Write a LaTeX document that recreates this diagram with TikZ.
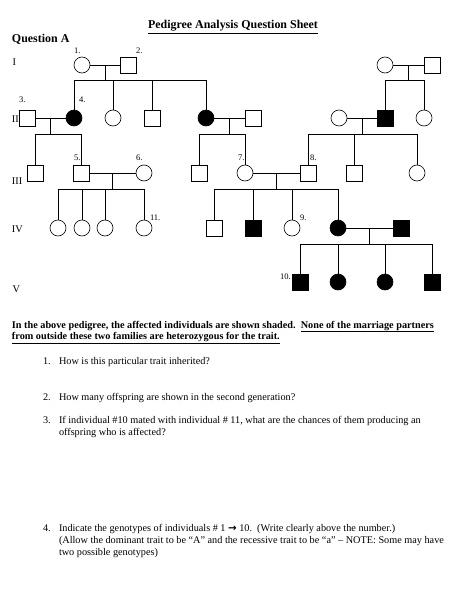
\documentclass[tikz,border=0pt]{standalone}
\usepackage{fontspec}
\setmainfont{Liberation Serif}
\newfontfamily\symfont{DejaVu Sans}
\usetikzlibrary{calc}
\begin{document}
\begin{tikzpicture}[x=1.1723pt,y=-1.1723pt,
  every node/.style={inner sep=0pt, outer sep=0pt},
  ind/.style={draw, line width=0.7pt, minimum size=18.76pt},
  male/.style={ind, rectangle},
  female/.style={ind, circle},
  aff/.style={fill=black},
  link/.style={line width=0.7pt},
  txt/.style={anchor=base west, font=\fontsize{12}{14}\selectfont},
  btxt/.style={anchor=base west, font=\fontsize{12}{14}\selectfont\bfseries},
  head/.style={font=\fontsize{14}{16}\selectfont\bfseries},
  num/.style={anchor=base west, font=\fontsize{10}{12}\selectfont},
  gen/.style={anchor=base west, font=\fontsize{12}{14}\selectfont}
]
\useasboundingbox[fill=white] (0,0) rectangle (474,596);

% headings
\node[head, anchor=base] (title) at (233,29) {\underline{Pedigree Analysis Question Sheet}};
\node[head, anchor=base west] (qa) at (12,43) {Question A};

% generation labels
\node[gen] (gI) at (12.5,66) {I};
\node[gen] (gII) at (12,123) {II};
\node[gen] (gIII) at (12,184.5) {III};
\node[gen] (gIV) at (12,232) {IV};
\node[gen] (gV) at (12.5,292) {V};

% Generation I
\node[female] (c1) at (82,65) {};
\node[male] (s2) at (128,65) {};
\node[female] (r1) at (385,65) {};
\node[male] (r2) at (432,65) {};

% Generation II
\node[male] (s3) at (27,118) {};
\node[female,aff] (c4) at (74,118) {};
\node[female] (c2b) at (113,118) {};
\node[male] (s2c) at (152,118) {};
\node[female,aff] (c2d) at (206,118) {};
\node[male] (s2e) at (253,118) {};
\node[female] (c2f) at (339,118) {};
\node[male,aff] (s2g) at (385.5,118) {};
\node[female] (c2h) at (424,118) {};

% Generation III
\node[male] (s3a) at (35,173) {};
\node[male] (s5) at (81.5,173) {};
\node[female] (c6) at (144,173) {};
\node[male] (s3c) at (199,173) {};
\node[female] (c7) at (245,173) {};
\node[male] (s8) at (308,173) {};
\node[male] (s3e) at (354.5,173) {};
\node[female] (c3f) at (417,173) {};

% Generation IV
\node[female] (c4a) at (58,228) {};
\node[female] (c4b) at (82,228) {};
\node[female] (c4c) at (105,228) {};
\node[female] (c11) at (144,228) {};
\node[male] (s4e) at (214,228) {};
\node[male,aff] (s4f) at (253,228) {};
\node[female] (c9) at (292,228) {};
\node[female,aff] (c4h) at (338,228) {};
\node[male,aff] (s4i) at (401,228) {};

% Generation V
\node[male,aff] (s10) at (300,282) {};
\node[female,aff] (c5b) at (338,282) {};
\node[female,aff] (c5c) at (385,282) {};
\node[male,aff] (s5d) at (432,282) {};

% number labels
\node[num] (l1) at (74,54) {1.};
\node[num] (l2) at (136,54) {2.};
\node[num] (l3) at (19,102) {3.};
\node[num] (l4) at (79,102) {4.};
\node[num] (l5) at (74,160.5) {5.};
\node[num] (l6) at (136,160.5) {6.};
\node[num] (l7) at (238,160.5) {7.};
\node[num] (l8) at (310,160.5) {8.};
\node[num] (l9) at (300,220) {9.};
\node[num] (l11) at (150,220) {11.};
\node[num] (l10) at (280,279) {10.};

% couples and descent lines
\draw[link] (c1) -- (s2);
\coordinate (m1) at ($(c1)!0.5!(s2)$);
\draw[link] (m1) -- ++(0,15) coordinate (b1);
\draw[link] (c4) |- (b1) (c2b) |- (b1) (s2c) |- (b1) (c2d) |- (b1);

\draw[link] (r1) -- (r2);
\coordinate (m2) at ($(r1)!0.5!(r2)$);
\draw[link] (m2) -- ++(0,15) coordinate (b2);
\draw[link] (s2g) |- (b2) (c2h) |- (b2);

\draw[link] (s3) -- (c4);
\coordinate (m3) at ($(s3)!0.5!(c4)$);
\draw[link] (m3) -- ++(0,16) coordinate (b3);
\draw[link] (s3a) |- (b3) (s5) |- (b3);

\draw[link] (c2d) -- (s2e);
\coordinate (m4) at ($(c2d)!0.5!(s2e)$);
\draw[link] (m4) -- ++(0,16) coordinate (b4);
\draw[link] (s3c) |- (b4) (c7) |- (b4);

\draw[link] (c2f) -- (s2g);
\coordinate (m5) at ($(c2f)!0.5!(s2g)$);
\draw[link] (m5) -- ++(0,16) coordinate (b5);
\draw[link] (s8) |- (b5) (s3e) |- (b5) (c3f) |- (b5);

\draw[link] (s5) -- (c6);
\coordinate (m6) at ($(s5)!0.5!(c6)$);
\draw[link] (m6) -- ++(0,16) coordinate (b6);
\draw[link] (c4a) |- (b6) (c4b) |- (b6) (c4c) |- (b6) (c11) |- (b6);

\draw[link] (c7) -- (s8);
\coordinate (m7) at ($(c7)!0.5!(s8)$);
\draw[link] (m7) -- ++(0,16) coordinate (b7);
\draw[link] (s4e) |- (b7) (s4f) |- (b7) (c9) |- (b7) (c4h) |- (b7);

\draw[link] (c4h) -- (s4i);
\coordinate (m8) at ($(c4h)!0.5!(s4i)$);
\draw[link] (m8) -- ++(0,16) coordinate (b8);
\draw[link] (s10) |- (b8) (c5b) |- (b8) (c5c) |- (b8) (s5d) |- (b8);

% text
\node[btxt] (p1) at (12,328) {In the above pedigree, the affected individuals are shown shaded.\ \ \underline{None of the marriage partners}};
\node[btxt] (p2) at (12,339.5) {\underline{from outside these two families are heterozygous for the trait.}};

\node[txt] (n1) at (43,364.5) {1.};
\node[txt] (q1) at (59,364.5) {How is this particular trait inherited?};
\node[txt] (n2) at (43,400.5) {2.};
\node[txt] (q2) at (59,400.5) {How many offspring are shown in the second generation?};
\node[txt] (n3) at (43,423.5) {3.};
\node[txt] (q3a) at (59,423.5) {If individual \#10 mated with individual \# 11, what are the chances of them producing an};
\node[txt] (q3b) at (59,435.3) {offspring who is affected?};
\node[txt] (n4) at (43,531.5) {4.};
\node[txt] (q4a) at (59,531.5) {Indicate the genotypes of individuals \# 1 {\symfont\bfseries →} 10.\ \ (Write clearly above the number.)};
\node[txt] (q4b) at (59,543.3) {(Allow the dominant trait to be “A” and the recessive trait to be “a” – NOTE: Some may have};
\node[txt] (q4c) at (59,555.1) {two possible genotypes)};
\end{tikzpicture}
\end{document}
